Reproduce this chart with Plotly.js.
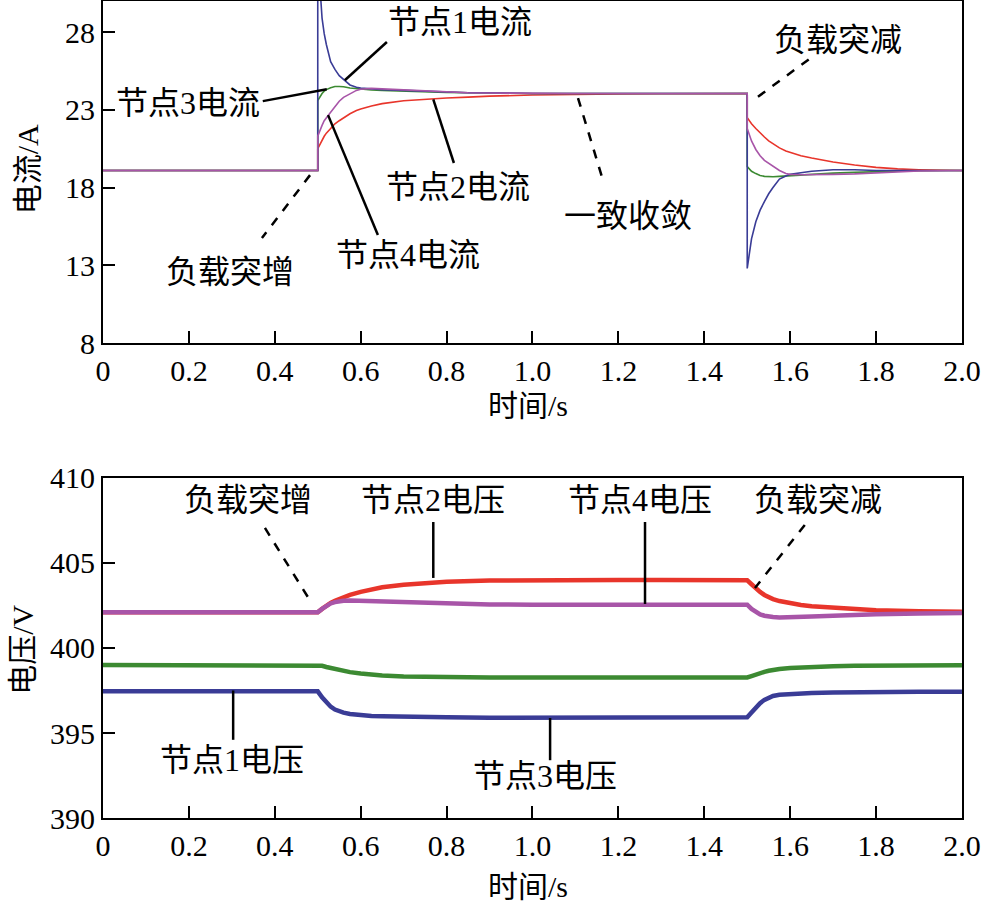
<!DOCTYPE html>
<html>
<head>
<meta charset="utf-8">
<script src="https://cdn.plot.ly/plotly-3.0.1.min.js"></script>
<style>
  body { margin: 0; background: #fff; }
  #chart { width: 984px; height: 908px; }
</style>
</head>
<body>
<div id="chart"></div>
<script>
// 电流（上图）
const tI = [0, 0.1, 0.2, 0.3, 0.4, 0.5, 0.5, 0.505, 0.51, 0.515, 0.52, 0.53, 0.54, 0.55, 0.56,
    0.575, 0.59, 0.6, 0.625, 0.65, 0.7, 0.75, 0.8, 0.85, 0.9, 1.0, 1.1, 1.2, 1.3, 1.4,
    1.5, 1.5, 1.505, 1.51, 1.52, 1.53, 1.54, 1.55, 1.56, 1.575, 1.59, 1.6, 1.625, 1.65,
    1.7, 1.75, 1.8, 1.85, 1.9, 2.0];

const i1 = [19.1, 19.1, 19.1, 19.1, 19.1, 19.1, 33.0, 30.6, 28.9, 27.9, 27.2, 26.1, 25.6, 25.2, 24.95,
    24.6, 24.45, 24.4, 24.35, 24.3, 24.25, 24.2, 24.15, 24.1, 24.1, 24.05, 24.05, 24.05, 24.05, 24.05,
    24.05, 12.8, 13.9, 14.7, 15.8, 16.55, 17.1, 17.6, 18.0, 18.55, 18.75, 18.85, 18.95, 19.05,
    19.15, 19.15, 19.1, 19.1, 19.1, 19.1];

const i2 = [19.1, 19.1, 19.1, 19.1, 19.1, 19.1, 20.5, 20.8, 21.05, 21.3, 21.5, 21.8, 22.1, 22.3, 22.5,
    22.75, 22.95, 23.05, 23.25, 23.4, 23.58, 23.68, 23.76, 23.82, 23.88, 23.95, 24.0, 24.02, 24.03, 24.05,
    24.05, 22.5, 22.3, 22.1, 21.8, 21.5, 21.25, 21.0, 20.8, 20.55, 20.35, 20.25, 20.05, 19.9,
    19.65, 19.45, 19.3, 19.2, 19.15, 19.1];

const i3 = [19.1, 19.1, 19.1, 19.1, 19.1, 19.1, 23.6, 23.85, 24.05, 24.2, 24.3, 24.42, 24.5, 24.5, 24.48,
    24.4, 24.35, 24.32, 24.28, 24.25, 24.2, 24.15, 24.12, 24.1, 24.08, 24.05, 24.05, 24.05, 24.05, 24.05,
    24.05, 19.35, 19.2, 19.05, 18.9, 18.78, 18.72, 18.7, 18.7, 18.72, 18.75, 18.77, 18.82, 18.86,
    18.93, 18.98, 19.03, 19.06, 19.08, 19.1];

const i4 = [19.1, 19.1, 19.1, 19.1, 19.1, 19.1, 21.3, 21.7, 22.0, 22.3, 22.5, 22.85, 23.2, 23.55, 23.8,
    24.05, 24.25, 24.32, 24.38, 24.35, 24.28, 24.2, 24.15, 24.1, 24.08, 24.05, 24.05, 24.05, 24.05, 24.05,
    24.05, 21.8, 21.4, 21.0, 20.45, 20.05, 19.75, 19.55, 19.35, 19.1, 18.9, 18.85, 18.82, 18.82,
    18.85, 18.88, 18.95, 19.02, 19.07, 19.1];

// 电压（下图）
const tV = [0, 0.1, 0.2, 0.3, 0.4, 0.49, 0.5, 0.51, 0.52, 0.53, 0.54, 0.55, 0.56, 0.575, 0.6,
    0.625, 0.65, 0.7, 0.75, 0.8, 0.9, 1.0, 1.1, 1.2, 1.3, 1.4, 1.49, 1.5, 1.51, 1.52, 1.53,
    1.54, 1.55, 1.56, 1.575, 1.6, 1.625, 1.65, 1.7, 1.75, 1.8, 1.9, 2.0];

const v1 = [397.45, 397.45, 397.45, 397.45, 397.45, 397.45, 397.45, 397.1, 396.8, 396.55, 396.38, 396.28, 396.2, 396.12, 396.05,
    396.0, 395.98, 395.95, 395.93, 395.92, 395.9, 395.9, 395.9, 395.9, 395.9, 395.9, 395.9, 395.92, 396.2, 396.5, 396.75,
    396.95, 397.1, 397.18, 397.25, 397.3, 397.33, 397.36, 397.38, 397.4, 397.42, 397.43, 397.43];

const v2 = [402.1, 402.1, 402.1, 402.1, 402.1, 402.1, 402.1, 402.3, 402.5, 402.65, 402.78, 402.88, 402.98, 403.12, 403.3,
    403.45, 403.57, 403.72, 403.83, 403.9, 403.97, 404.0, 404.0, 404.0, 404.0, 404.0, 403.98, 403.98, 403.75, 403.5, 403.3,
    403.12, 402.98, 402.88, 402.76, 402.63, 402.53, 402.46, 402.36, 402.28, 402.22, 402.16, 402.13];

const v3 = [399.0, 399.0, 399.0, 399.0, 399.0, 399.0, 399.0, 398.95, 398.88, 398.82, 398.76, 398.7, 398.65, 398.58, 398.5,
    398.43, 398.38, 398.33, 398.3, 398.28, 398.27, 398.26, 398.26, 398.26, 398.26, 398.26, 398.26, 398.27, 398.35, 398.45, 398.53,
    398.6, 398.66, 398.71, 398.77, 398.83, 398.87, 398.9, 398.93, 398.95, 398.97, 398.98, 398.99];

const v4 = [402.1, 402.1, 402.1, 402.1, 402.1, 402.1, 402.1, 402.3, 402.5, 402.62, 402.7, 402.75, 402.78, 402.8, 402.78,
    402.75, 402.72, 402.68, 402.64, 402.6, 402.56, 402.55, 402.55, 402.55, 402.55, 402.55, 402.55, 402.55, 402.3, 402.1, 401.98,
    401.9, 401.85, 401.82, 401.8, 401.8, 401.82, 401.85, 401.9, 401.95, 401.99, 402.03, 402.06];

const xTicks = [0, 0.2, 0.4, 0.6, 0.8, 1.0, 1.2, 1.4, 1.6, 1.8, 2.0];
const xTickText = ["0", "0.2", "0.4", "0.6", "0.8", "1.0", "1.2", "1.4", "1.6", "1.8", "2.0"];
const yTicksI = [8, 13, 18, 23, 28];
const yTicksV = [390, 395, 400, 405, 410];

const colBlue = "#3a3c96";
const colRed = "#e8352b";
const colGreen = "#3c8a32";
const colPurple = "#a855a8";

// 标注：文字位置 + 引线 [x0, y0, x1, y1, 是否虚线]
const notesTop = [
    { text: "节点1电流", x: 0.831, y: 28.64, line: [0.661, 27.36, 0.563, 24.9, false] },
    { text: "节点3电流", x: 0.198, y: 23.43, line: [0.372, 23.56, 0.521, 24.33, false] },
    { text: "节点4电流", x: 0.710, y: 13.66, line: [0.524, 22.66, 0.640, 14.95, false] },
    { text: "节点2电流", x: 0.827, y: 18.03, line: [0.769, 23.67, 0.817, 19.58, false] },
    { text: "一致收敛", x: 1.222, y: 16.17, line: [1.106, 23.76, 1.164, 18.48, true] },
    { text: "负载突增", x: 0.296, y: 12.57, line: [0.482, 18.8, 0.370, 14.75, true] },
    { text: "负载突减", x: 1.711, y: 27.49, line: [1.525, 23.84, 1.651, 26.4, true] }
];
const notesBottom = [
    { text: "负载突增", x: 0.338, y: 408.7, line: [0.377, 407.06, 0.487, 402.59, true] },
    { text: "节点2电压", x: 0.768, y: 408.7, line: [0.769, 407.41, 0.769, 404.12, false] },
    { text: "节点4电压", x: 1.25, y: 408.7, line: [1.262, 407.41, 1.262, 402.59, false] },
    { text: "负载突减", x: 1.665, y: 408.7, line: [1.634, 407.24, 1.518, 403.53, true] },
    { text: "节点1电压", x: 0.300, y: 393.4, line: [0.303, 397.5, 0.303, 394.6, false] },
    { text: "节点3电压", x: 1.029, y: 392.5, line: [1.041, 395.88, 1.041, 393.4, false] }
];

const fontSerif = "Liberation Serif, 'Noto Sans CJK SC', serif";

function linea(t, y, col, w, ejeX, ejeY) {
    return { x: t, y: y, xaxis: ejeX, yaxis: ejeY, type: "scatter", mode: "lines",
        line: { color: col, width: w }, hoverinfo: "skip", showlegend: false };
}

const traces = [
    linea(tI, i2, colRed, 1.6, "x", "y"),
    linea(tI, i3, colGreen, 1.6, "x", "y"),
    linea(tI, i1, colBlue, 1.6, "x", "y"),
    linea(tI, i4, colPurple, 1.6, "x", "y"),
    linea(tV, v1, colBlue, 4.5, "x2", "y2"),
    linea(tV, v3, colGreen, 4.5, "x2", "y2"),
    linea(tV, v2, colRed, 4.5, "x2", "y2"),
    linea(tV, v4, colPurple, 4.5, "x2", "y2")
];

const shapes = [];
const annotations = [];
function agregarNotas(lista, xr, yr) {
    lista.forEach(n => {
        annotations.push({ text: n.text, x: n.x, y: n.y, xref: xr, yref: yr, showarrow: false,
            xanchor: "center", yanchor: "middle",
            font: { family: fontSerif, size: 32, color: "#000" } });
        const l = n.line;
        shapes.push({ type: "line", xref: xr, yref: yr, x0: l[0], y0: l[1], x1: l[2], y1: l[3],
            line: { color: "#000", width: 2.5, dash: l[4] ? "dash" : "solid" } });
    });
}
agregarNotas(notesTop, "x", "y");
agregarNotas(notesBottom, "x2", "y2");

// títulos de ejes
const tituloFont = { family: fontSerif, size: 30, color: "#000" };
function titulo(texto, x, y, ang) {
    annotations.push({ text: texto, xref: "paper", yref: "paper", x: x, y: y, textangle: ang,
        xanchor: "center", yanchor: "middle", showarrow: false, font: tituloFont });
}
titulo("电流/A", 0.028, 0.813, -90);
titulo("电压/V", 0.022, 0.284, -90);
titulo("时间/s", 0.537, 0.553, 0);
titulo("时间/s", 0.537, 0.024, 0);

const ejeComun = {
    showline: true, linewidth: 2, linecolor: "#000", mirror: true,
    ticks: "inside", ticklen: 12, tickwidth: 2, tickcolor: "#000",
    showgrid: false, zeroline: false,
    tickfont: { family: fontSerif, size: 30, color: "#000" }
};

const layout = {
    width: 984, height: 908,
    margin: { l: 0, r: 0, t: 0, b: 0 },
    paper_bgcolor: "#fff", plot_bgcolor: "#fff",
    xaxis: Object.assign({}, ejeComun, { domain: [0.1047, 0.9776], range: [0, 2], anchor: "y",
        tickvals: xTicks, ticktext: xTickText }),
    yaxis: Object.assign({}, ejeComun, { domain: [0.6222, 0.9989], range: [8, 30], anchor: "x",
        tickvals: yTicksI }),
    xaxis2: Object.assign({}, ejeComun, { domain: [0.1047, 0.9776], range: [0, 2], anchor: "y2",
        tickvals: xTicks, ticktext: xTickText }),
    yaxis2: Object.assign({}, ejeComun, { domain: [0.0991, 0.4736], range: [390, 410], anchor: "x2",
        tickvals: yTicksV }),
    shapes: shapes,
    annotations: annotations
};

Plotly.newPlot("chart", traces, layout, { staticPlot: true });
</script>
</body>
</html>
